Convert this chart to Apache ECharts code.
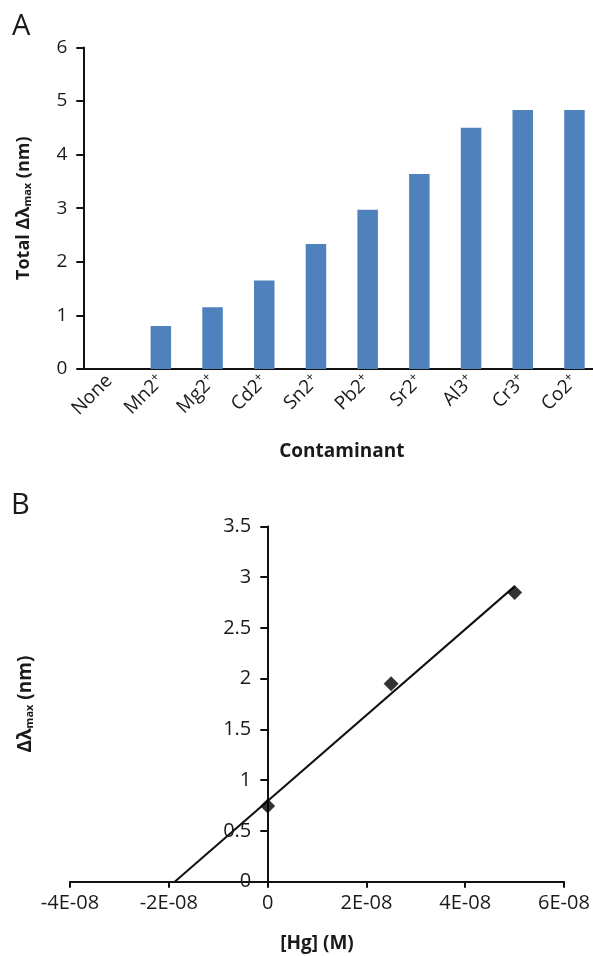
<!DOCTYPE html>
<html><head><meta charset="utf-8">
<script src="https://cdn.jsdelivr.net/npm/echarts@6/dist/echarts.min.js"></script>
<style>html,body{margin:0;padding:0;background:#fff}#c{width:593px;height:956px}</style>
</head><body><div id="c"></div>
<script>
// Panel A data
const contaminants = ['None','Mn2+','Mg2+','Cd2+','Sn2+','Pb2+','Sr2+','Al3+','Cr3+','Co2+'];
const totalShift = [0, 0.80, 1.15, 1.65, 2.33, 2.97, 3.64, 4.50, 4.83, 4.83];
// Panel B data
const hgConc = [0, 2.5e-8, 5e-8];
const hgShift = [0.745, 1.95, 2.85];
const trendConc = [-1.88e-8, 5e-8];
const trendShift = [0, 2.91];
const xTickLabelsB = ['-4E-08','-2E-08','0','2E-08','4E-08','6E-08'];

const FONT = 'Open Sans';
const TXT = '#1a1a1a';
const AX = { lineStyle: { color: '#111', width: 2 } };

const chart = echarts.init(document.getElementById('c'));
chart.setOption({
  animation: false,
  textStyle: { fontFamily: FONT, color: TXT },
  graphic: [
    { type: 'text', left: 12, top: 12, style: { text: 'A', font: '29px "Open Sans"', fill: TXT } },
    { type: 'text', left: 11, top: 491, style: { text: 'B', font: '29px "Open Sans"', fill: TXT } }
  ],
  grid: [
    { left: 83.3, top: 47.4, width: 517, height: 321.6, containLabel: false, outerBoundsMode: 'none' },
    { left: 70, top: 526.5, width: 494, height: 355.2, containLabel: false, outerBoundsMode: 'none' }
  ],
  xAxis: [
    {
      gridIndex: 0, type: 'category', data: contaminants,
      axisLine: AX, axisTick: { length: 6, lineStyle: AX.lineStyle },
      axisLabel: {
        rotate: 45, fontSize: 19, margin: 9, color: TXT, fontFamily: FONT,
        formatter: v => v.endsWith('+') ? v.slice(0, -1) + '{sup|+}' : v,
        rich: { sup: { fontSize: 13, color: TXT, fontFamily: FONT, padding: [0, 0, 9, 0] } }
      },
      name: 'Contaminant', nameLocation: 'middle', nameGap: 73,
      nameTextStyle: { fontWeight: 'bold', fontSize: 19, color: TXT, fontFamily: FONT }
    },
    {
      gridIndex: 1, type: 'value', min: -4e-8, max: 6e-8, interval: 2e-8,
      axisLine: AX, axisTick: { length: 6, lineStyle: AX.lineStyle },
      splitLine: { show: false },
      axisLabel: {
        fontSize: 20, margin: 12, color: TXT, fontFamily: FONT,
        formatter: v => xTickLabelsB[Math.round((v + 4e-8) / 2e-8)]
      },
      name: '[Hg] (M)', nameLocation: 'middle', nameGap: 52,
      nameTextStyle: { fontWeight: 'bold', fontSize: 19, color: TXT, fontFamily: FONT }
    }
  ],
  yAxis: [
    {
      gridIndex: 0, type: 'value', min: 0, max: 6, interval: 1,
      axisLine: { show: true, lineStyle: AX.lineStyle },
      axisTick: { show: true, length: 7, lineStyle: AX.lineStyle },
      splitLine: { show: false },
      axisLabel: { fontSize: 19, margin: 16, color: TXT, fontFamily: FONT },
      name: 'Total Δλ{sub|max} (nm)', nameLocation: 'middle', nameRotate: 90, nameGap: 50,
      nameTextStyle: {
        fontWeight: 'bold', fontSize: 18, color: TXT, fontFamily: FONT,
        rich: { sub: { fontSize: 11, fontWeight: 'bold', color: TXT, fontFamily: FONT, padding: [8, 0, 0, 0] } }
      }
    },
    {
      gridIndex: 1, type: 'value', min: 0, max: 3.5, interval: 0.5,
      position: 'left', offset: -197.3,
      axisLine: { show: true, onZero: false, lineStyle: AX.lineStyle },
      axisTick: { show: true, length: 7, lineStyle: AX.lineStyle },
      splitLine: { show: false },
      axisLabel: { fontSize: 20, margin: 16, color: TXT, fontFamily: FONT },
      name: 'Δλ{sub|max} (nm)', nameLocation: 'middle', nameRotate: 90, nameGap: 232,
      nameTextStyle: {
        fontWeight: 'bold', fontSize: 19, color: TXT, fontFamily: FONT,
        rich: { sub: { fontSize: 11, fontWeight: 'bold', color: TXT, fontFamily: FONT, padding: [8, 0, 0, 0] } }
      }
    }
  ],
  series: [
    {
      type: 'bar', xAxisIndex: 0, yAxisIndex: 0, data: totalShift,
      barWidth: 20.5, itemStyle: { color: '#4F81BD' }
    },
    {
      type: 'line', xAxisIndex: 1, yAxisIndex: 1,
      data: trendConc.map((x, i) => [x, trendShift[i]]),
      showSymbol: false, symbol: 'none', lineStyle: { color: '#111', width: 2 }, z: 2
    },
    {
      type: 'scatter', xAxisIndex: 1, yAxisIndex: 1,
      data: hgConc.map((x, i) => [x, hgShift[i]]),
      symbol: 'diamond', symbolSize: 15, itemStyle: { color: '#000' }, z: 3
    }
  ]
});
</script></body></html>
